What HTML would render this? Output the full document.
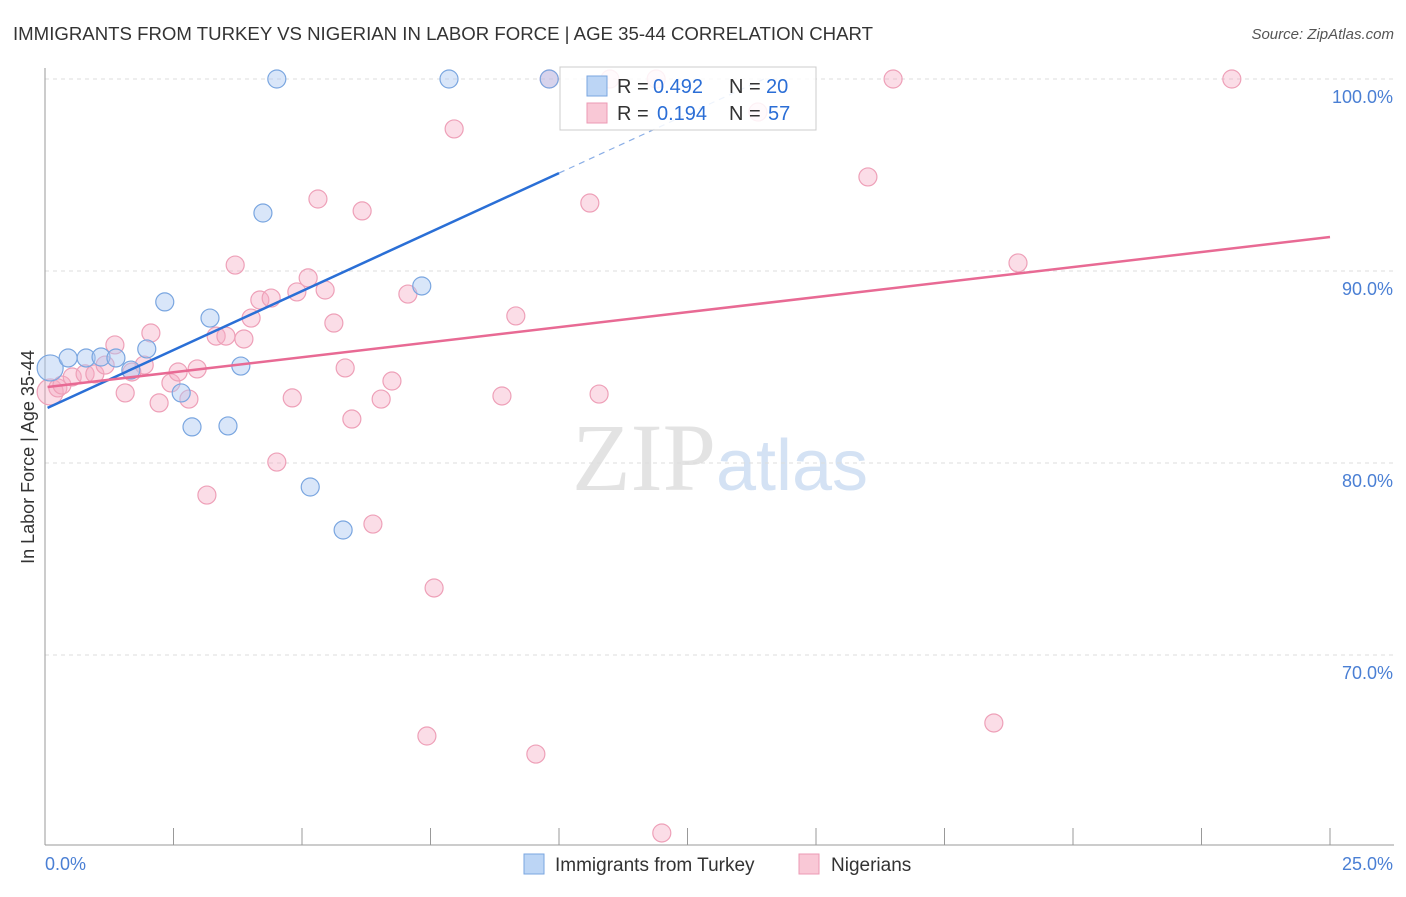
<!DOCTYPE html>
<html><head><meta charset="utf-8"><style>
body{margin:0;background:#fff;font-family:"Liberation Sans",sans-serif;}
</style></head><body>
<svg id="c" width="1406" height="892" xmlns="http://www.w3.org/2000/svg" font-family="Liberation Sans, sans-serif">
<text x="13" y="40" font-size="18" fill="#333" textLength="860" lengthAdjust="spacingAndGlyphs">IMMIGRANTS FROM TURKEY VS NIGERIAN IN LABOR FORCE | AGE 35-44 CORRELATION CHART</text>
<text x="1394" y="39" font-size="15" fill="#555" font-style="italic" text-anchor="end">Source: ZipAtlas.com</text>
<text x="720" y="490" font-size="96" text-anchor="middle" fill="#e3e3e3" font-family="Liberation Serif, serif">ZIP<tspan fill="#d4e2f4" font-family="Liberation Sans, sans-serif" font-size="72">atlas</tspan></text>
<g id="grid"></g>
<g id="marks"></g>
<g>
<rect x="560" y="67" width="256" height="63" fill="#fff" fill-opacity="0.85" stroke="#ccc"/>
<rect x="587" y="76" width="20" height="20" fill="#bcd5f5" stroke="#7aa6e0"/>
<text x="617" y="93" font-size="20" fill="#333">R =</text>
<text x="653" y="93" font-size="20" fill="#2b6ed6">0.492</text>
<text x="729" y="93" font-size="20" fill="#333">N =</text>
<text x="766" y="93" font-size="20" fill="#2b6ed6">20</text>
<rect x="587" y="103" width="20" height="20" fill="#f9c8d6" stroke="#ec9ab4"/>
<text x="617" y="120" font-size="20" fill="#333">R =</text>
<text x="657" y="120" font-size="20" fill="#2b6ed6">0.194</text>
<text x="729" y="120" font-size="20" fill="#333">N =</text>
<text x="768" y="120" font-size="20" fill="#2b6ed6">57</text>
</g>
<text transform="translate(34,457) rotate(-90)" font-size="18" fill="#333" text-anchor="middle">In Labor Force | Age 35-44</text>
<g>
<rect x="524" y="854" width="20" height="20" fill="#bcd5f5" stroke="#7aa6e0"/>
<text x="555" y="871" font-size="19" fill="#333">Immigrants from Turkey</text>
<rect x="799" y="854" width="20" height="20" fill="#f9c8d6" stroke="#ec9ab4"/>
<text x="831" y="871" font-size="19" fill="#333">Nigerians</text>
</g>
</svg>
<script>
const xTicks=[0,2.5,5,7.5,10,12.5,15,17.5,20,22.5,25];
const yTicks=[100,90,80,70];
const yTickLabels=["100.0%","90.0%","80.0%","70.0%"];
const xEndLabels=["0.0%","25.0%"];
const turkeyX=[0.10,0.45,0.80,1.09,1.38,1.67,1.98,2.33,2.65,2.86,3.21,3.56,3.81,4.24,4.51,5.16,5.80,7.33,7.86,9.81];
const turkeyY=[84.95,85.47,85.47,85.52,85.47,84.84,85.94,88.39,83.65,81.88,87.55,81.93,85.05,93.02,100,78.75,76.51,89.22,100,100];
const nigerX=[0.10,0.25,0.33,0.53,0.78,0.97,1.17,1.36,1.56,1.69,1.93,2.06,2.22,2.45,2.59,2.80,2.96,3.15,3.33,3.52,3.70,3.87,4.01,4.18,4.40,4.51,4.81,4.90,5.12,5.31,5.45,5.62,5.84,5.97,6.17,6.38,6.54,6.75,7.06,7.43,7.57,7.96,8.89,9.16,9.55,9.81,10.60,10.78,10.99,11.89,12.00,13.87,16.01,16.50,18.46,18.93,23.09];
const nigerY=[83.70,83.91,84.06,84.48,84.64,84.64,85.10,86.15,83.65,84.74,85.10,86.77,83.13,84.17,84.74,83.33,84.90,78.33,86.61,86.61,90.31,86.46,87.55,88.49,88.59,80.05,83.39,88.91,89.64,93.75,89.01,87.29,84.95,82.29,93.13,76.82,83.33,84.27,88.80,65.78,73.49,97.40,83.49,87.66,64.84,100,93.54,83.59,100,100,60.73,98.28,94.90,100,66.46,90.42,100];
const turkeyTrend=[82.81,95.10]; // at x=0 and x=10
const nigerTrend=[83.96,91.77];  // at x=0 and x=25
const X=v=>45+v*51.4, Y=v=>79+(100-v)*19.2;
const NS="http://www.w3.org/2000/svg";
function mk(t,a,p){const e=document.createElementNS(NS,t);for(const k in a)e.setAttribute(k,a[k]);p.appendChild(e);return e;}
const g=document.getElementById('grid'), m=document.getElementById('marks');
yTicks.forEach((t,i)=>{
 const l=mk('line',{x1:45,x2:1394,y1:Y(t),y2:Y(t),stroke:'#ddd','stroke-dasharray':'4,4'},g);
 
 
 const tx=mk('text',{x:1393,y:Y(t)+24,'font-size':18,fill:'#4a7fd4','text-anchor':'end'},g);
 tx.textContent=yTickLabels[i];
 
 
});
const ax=mk('line',{x1:45,x2:45,y1:68,y2:845,stroke:'#999'},g);


const bx=mk('line',{x1:45,x2:1394,y1:845,y2:845,stroke:'#999'},g);


xTicks.forEach(t=>{
 const l=mk('line',{x1:X(t),x2:X(t),y1:828,y2:845,stroke:'#999'},g);
 
 
});
[[0,'start',45],[25,'end',1393]].forEach((d,i)=>{
 const tx=mk('text',{x:d[2],y:870,'font-size':18,fill:'#4a7fd4','text-anchor':d[1]},g);
 tx.textContent=xEndLabels[i];
 
 
});
nigerX.forEach((x,i)=>{
 const c=mk('circle',{cx:X(x),cy:Y(nigerY[i]),r:i==0?13:9,fill:'rgba(246,170,195,0.4)',stroke:'#eea0b8','stroke-width':1.2},m);
 
 
});
turkeyX.forEach((x,i)=>{
 const c=mk('circle',{cx:X(x),cy:Y(turkeyY[i]),r:i==0?13:9,fill:'rgba(170,200,242,0.45)',stroke:'#7aa6e0','stroke-width':1.2},m);
 
 
});
const slopeT=(turkeyTrend[1]-turkeyTrend[0])/10;
const t1=mk('line',{x1:X(0.05),y1:Y(turkeyTrend[0]+slopeT*0.05),x2:X(10),y2:Y(turkeyTrend[1]),stroke:'#2a6fd6','stroke-width':2.5},m);


const xe=(100-turkeyTrend[0])/slopeT;
const t2=mk('line',{x1:X(10),y1:Y(turkeyTrend[1]),x2:X(Math.min(xe,25)),y2:Y(turkeyTrend[0]+slopeT*Math.min(xe,25)),stroke:'#8aaee6','stroke-width':1.2,'stroke-dasharray':'6,5'},m);


const t3=mk('line',{x1:X(0.05),y1:Y(nigerTrend[0]),x2:X(25),y2:Y(nigerTrend[1]),stroke:'#e86a94','stroke-width':2.5},m);


</script>
</body></html>
